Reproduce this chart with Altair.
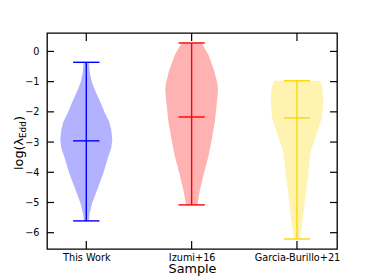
import altair as alt
import pandas as pd

# ---- data ----
labels = ["This Work", "Izumi+16", "Garcia-Burillo+21"]
positions = [1, 2, 3]
colors = ["#0000ff", "#ff0000", "#ffd700"]
mins = [-5.61, -5.08, -6.21]
maxs = [-0.36, 0.28, -0.97]
meds = [-2.96, -2.17, -2.20]

# violin outlines: y values and half widths (x units)
tw_y = [-0.36, -0.68, -1.0, -1.23, -1.45, -1.78, -2.0, -2.33, -2.6, -2.9, -3.2, -3.49, -4.04, -4.59, -5.03, -5.42, -5.61]
tw_w = [0.024, 0.033, 0.052, 0.076, 0.104, 0.147, 0.171, 0.218, 0.237, 0.247, 0.237, 0.209, 0.161, 0.102, 0.054, 0.028, 0.024]
iz_y = [0.28, -0.11, -0.66, -1.1, -1.32, -1.77, -2.32, -2.93, -3.48, -4.03, -4.58, -5.02, -5.08]
iz_w = [0.095, 0.159, 0.216, 0.247, 0.250, 0.237, 0.221, 0.190, 0.159, 0.117, 0.079, 0.057, 0.052]
gb_y = [-0.97, -1.22, -1.67, -2.22, -2.77, -3.32, -3.6, -4.15, -4.7, -5.25, -5.8, -6.21]
gb_w = [0.218, 0.240, 0.250, 0.235, 0.183, 0.130, 0.121, 0.104, 0.083, 0.066, 0.045, 0.028]

y_ticks = [-6, -5, -4, -3, -2, -1, 0]
cap_half = 0.125

W, H = 290, 216
xdom = [0.627, 3.38]
ydom = [-6.54, 0.61]

xs = alt.Scale(domain=xdom, nice=False, zero=False)
ys = alt.Scale(domain=ydom, nice=False, zero=False)

label_expr = " : ".join(
    f"datum.value == {p} ? '{l}'" for p, l in zip(positions[:-1], labels[:-1])
) + f" : '{labels[-1]}'"

xaxis = alt.Axis(values=positions, labelExpr=label_expr, title="Sample", grid=False,
                 ticks=False, domain=False, labelPadding=3, labelFontSize=9.7,
                 labelFont="DejaVu Sans", labelColor="black", titleFont="DejaVu Sans",
                 titleFontSize=12.8, titleFontWeight="normal", titleColor="black",
                 titlePadding=1, labelOverlap=False)
yaxis = alt.Axis(values=y_ticks, title=None, grid=False, ticks=False, domain=False,
                 labelPadding=8, labelFontSize=9.7, labelFont="DejaVu Sans",
                 labelColor="black", labelOverlap=False)


def X(f):
    return alt.X(f, scale=xs, axis=xaxis, stack=None)


def Y(f):
    return alt.Y(f, scale=ys, axis=yaxis)


layers = []
for lab, pos, c, yv, wv, a, b, m in zip(labels, positions, colors,
                                       [tw_y, iz_y, gb_y], [tw_w, iz_w, gb_w],
                                       mins, maxs, meds):
    vdf = pd.DataFrame({"y": yv, "xl": [pos - w for w in wv], "xr": [pos + w for w in wv]})
    layers.append(alt.Chart(vdf).mark_area(orient="horizontal", color=c, opacity=0.3).encode(
        y=Y("y:Q"), x=X("xl:Q"), x2="xr:Q"))
    sdf = pd.DataFrame({"x": [pos], "lo": [a], "hi": [b]})
    layers.append(alt.Chart(sdf).mark_rule(color=c, strokeWidth=1.4).encode(
        x=X("x:Q"), y=Y("lo:Q"), y2="hi:Q"))
    cdf = pd.DataFrame({"xl": [pos - cap_half] * 3, "xr": [pos + cap_half] * 3, "y": [a, b, m]})
    layers.append(alt.Chart(cdf).mark_rule(color=c, strokeWidth=1.4).encode(
        x=X("xl:Q"), x2="xr:Q", y=Y("y:Q")))

ytdf = pd.DataFrame({"v": y_ticks})
xtdf = pd.DataFrame({"v": positions})
layers.append(alt.Chart(ytdf).mark_rule(color="black", strokeWidth=1.2).encode(
    y=Y("v:Q"), x=alt.value(0), x2=alt.value(7)))
layers.append(alt.Chart(ytdf).mark_rule(color="black", strokeWidth=1.2).encode(
    y=Y("v:Q"), x=alt.value(W - 7), x2=alt.value(W)))
layers.append(alt.Chart(xtdf).mark_rule(color="black", strokeWidth=1.2).encode(
    x=X("v:Q"), y=alt.value(H - 8), y2=alt.value(H)))
layers.append(alt.Chart(xtdf).mark_rule(color="black", strokeWidth=1.2).encode(
    x=X("v:Q"), y=alt.value(0), y2=alt.value(8)))

layers.append(alt.Chart(pd.DataFrame({"t": ["log(λ"]})).mark_text(
    angle=270, align="left", baseline="middle", fontSize=12.8, font="DejaVu Sans",
    color="black").encode(text="t:N", x=alt.value(-28), y=alt.value(137)))
layers.append(alt.Chart(pd.DataFrame({"t": ["Edd"]})).mark_text(
    angle=270, align="left", baseline="middle", fontSize=8.8, font="DejaVu Sans",
    color="black").encode(text="t:N", x=alt.value(-24.5), y=alt.value(105)))
layers.append(alt.Chart(pd.DataFrame({"t": [")"]})).mark_text(
    angle=270, align="left", baseline="middle", fontSize=12.8, font="DejaVu Sans",
    color="black").encode(text="t:N", x=alt.value(-28), y=alt.value(88)))

chart = alt.layer(*layers).properties(
    width=W, height=H,
    autosize=alt.AutoSizeParams(type="none"),
    padding={"left": 39, "top": 25, "right": 29, "bottom": 29},
    background="white",
).configure_view(stroke="black", strokeWidth=1.3)

chart.save("out.html", embed_options={"renderer": "svg", "actions": False})
